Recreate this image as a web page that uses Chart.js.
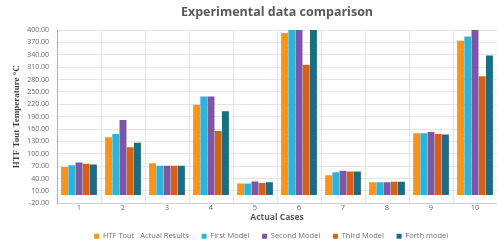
<!DOCTYPE html>
<html>
<head>
<meta charset="utf-8">
<script src="https://cdn.jsdelivr.net/npm/chart.js@4/dist/chart.umd.min.js"></script>
<style>
  html, body { margin: 0; padding: 0; background: #fff; overflow: hidden; }
  #wrap { width: 497px; height: 243px; }
</style>
</head>
<body>
<div id="wrap"><canvas id="graphique" width="497" height="243"></canvas></div>
<script>
// categories (actual cases)
const cases = ["1", "2", "3", "4", "5", "6", "7", "8", "9", "10"];

// series
const actualResults = [68, 140, 77, 219, 28, 393, 48, 31, 150, 374];
const firstModel = [72, 148, 71, 239, 28, 400, 55, 31, 150, 384];
const secondModel = [79, 182, 71, 239, 33, 400, 59, 31, 153, 400];
const thirdModel = [76, 116, 71, 155, 29, 316, 57, 32, 148, 288];
const forthModel = [74, 127, 71, 203, 31, 400, 57, 32, 147, 338];

const seriesNames = ["HTF Tout   Actual Results", "First Model", "Second Model", "Third Model", "Forth model"];
const couleurs = ["#F7931E", "#2DB3D6", "#7F55A6", "#D9600E", "#1F6C82"];

const valeurs = [actualResults, firstModel, secondModel, thirdModel, forthModel];

const datasets = [];
for (let i = 0; i < valeurs.length; i++) {
    datasets.push({
        label: seriesNames[i],
        data: valeurs[i],
        backgroundColor: couleurs[i],
        borderWidth: 0,
        categoryPercentage: 0.82,
        barPercentage: 0.96
    });
}

const police = "'Open Sans', 'DejaVu Sans', sans-serif";

const config = {
    type: "bar",
    data: { labels: cases, datasets: datasets },
    options: {
        responsive: false,
        animation: false,
        layout: { padding: { left: 0, right: 0, top: 0, bottom: -7 } },
        plugins: {
            title: {
                display: true,
                fullSize: false,
                text: "Experimental data comparison",
                color: "#595959",
                font: { family: police, size: 12.5, weight: "bold" },
                padding: { top: 5, bottom: 10 }
            },
            legend: {
                position: "bottom",
                fullSize: false,
                labels: {
                    boxWidth: 5,
                    boxHeight: 5,
                    padding: 1,
                    color: "#707070",
                    font: { family: police, size: 7.5 },
                    generateLabels: (chart) => {
                        const items = Chart.defaults.plugins.legend.labels.generateLabels(chart);
                        return items.map((it) => Object.assign(it, { text: it.text + "      " }));
                    }
                }
            },
            tooltip: { enabled: false }
        },
        scales: {
            x: {
                grid: { color: "#e4e4e4", offset: true, drawTicks: false },
                border: { color: "#d0d0d0" },
                ticks: { color: "#666", font: { family: police, size: 7.5 }, padding: 0 },
                title: {
                    display: true,
                    text: "Actual Cases",
                    color: "#595959",
                    font: { family: police, size: 8.5, weight: "bold" },
                    padding: { top: 0, bottom: 9 }
                }
            },
            y: {
                min: -20,
                max: 400,
                grid: { color: "#e4e4e4", drawTicks: false },
                border: { color: "#9fb3cc" },
                ticks: {
                    stepSize: 30,
                    color: "#666",
                    font: { family: police, size: 7 },
                    padding: 8,
                    callback: (v) => v.toFixed(2)
                },
                title: {
                    display: true,
                    text: "HTF Tout Temperature °C",
                    color: "#404040",
                    font: { family: "'Liberation Serif', serif", size: 9, weight: "bold" },
                    padding: { top: 11, bottom: 0 }
                },
                afterFit: (scale) => { scale.width = 57; }
            }
        }
    }
};

new Chart(document.querySelector("#graphique"), config);
</script>
</body>
</html>
